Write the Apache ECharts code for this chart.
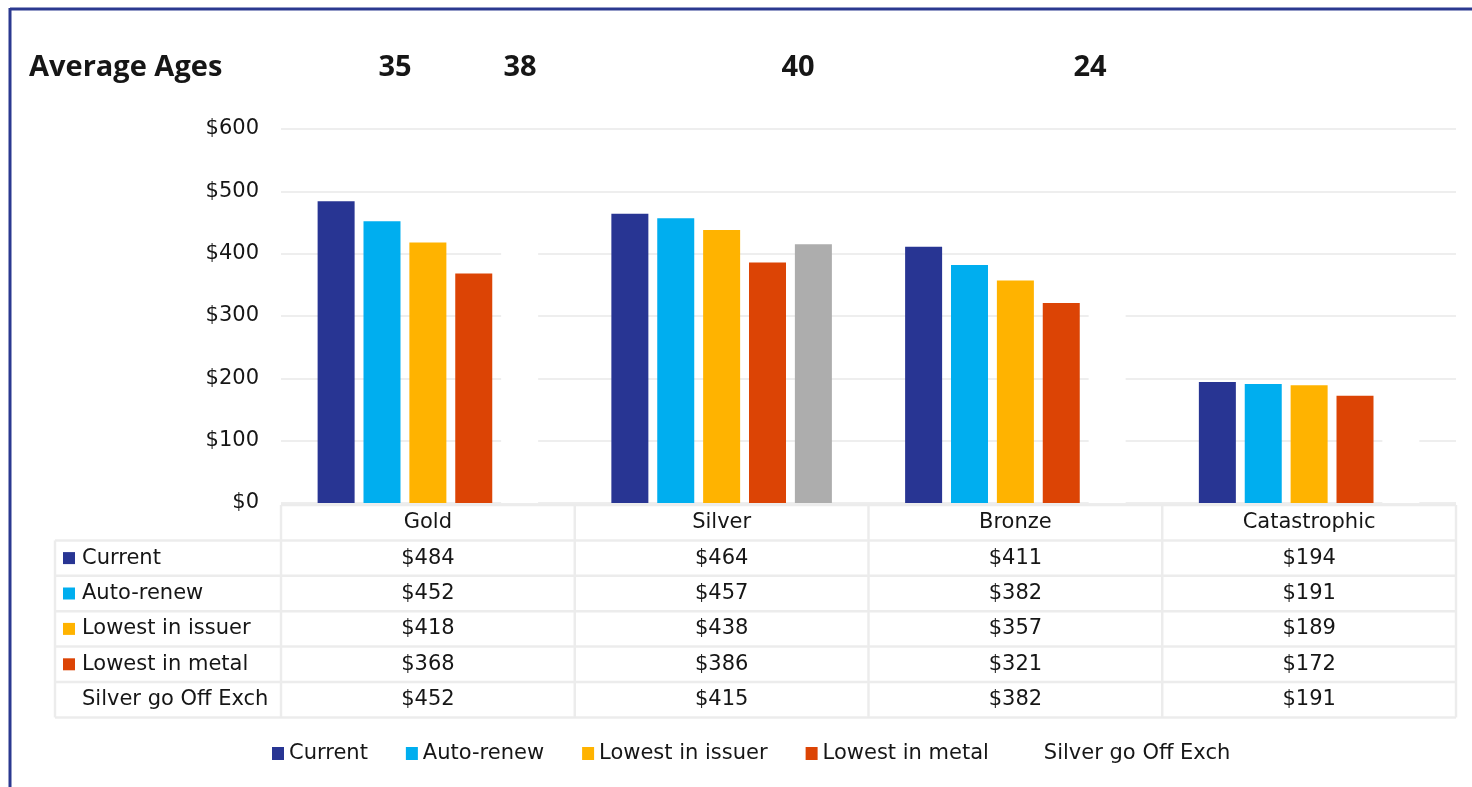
<!DOCTYPE html>
<html>
<head>
<meta charset="utf-8">
<script src="https://cdn.jsdelivr.net/npm/echarts@6/dist/echarts.min.js"></script>
<style>
html,body{margin:0;padding:0;background:#fff;}
#chart{width:1472px;height:787px;}
</style>
</head>
<body>
<div id="chart"></div>
<script>
// ---- data ----
const categories = ['Gold', 'Silver', 'Bronze', 'Catastrophic'];
const seriesNames = ['Current', 'Auto-renew', 'Lowest in issuer', 'Lowest in metal', 'Silver go Off Exch'];
const current = [484, 464, 411, 194];
const autoRenew = [452, 457, 382, 191];
const lowestIssuer = [418, 438, 357, 189];
const lowestMetal = [368, 386, 321, 172];
const silverOffExch = [452, 415, 382, 191];
const yTicks = [0, 100, 200, 300, 400, 500, 600];
const ageTitle = 'Average Ages';
const ages = ['35', '38', '40', '24'];

// ---- styles ----
const colors = ['#283593', '#00AEEF', '#FFB300', '#DC4405', '#FFFFFF'];
const greyBar = '#ADADAD';
const FONT = '"DejaVu Sans", "Liberation Sans", Arial, sans-serif';
const FS = 21;
const TXT = '#161616';
const values = [current, autoRenew, lowestIssuer, lowestMetal, silverOffExch];

const chart = echarts.init(document.getElementById('chart'), null, {renderer: 'canvas'});

const series = values.map((arr, si) => ({
  name: seriesNames[si],
  type: 'bar',
  barWidth: 37,
  barGap: '24%',
  itemStyle: {color: colors[si]},
  data: si === 4
    ? arr.map((v, i) => ({value: v, itemStyle: {color: categories[i] === 'Silver' ? greyBar : '#FFFFFF'}}))
    : arr.slice()
}));

chart.setOption({
  animation: false,
  backgroundColor: '#FFFFFF',
  color: colors,
  grid: {left: 281, right: 16, top: 129, bottom: 284},
  legend: {
    left: 267, top: 738,
    icon: 'rect', itemWidth: 12, itemHeight: 13, itemGap: 38,
    textStyle: {fontFamily: FONT, fontSize: FS, color: TXT},
    data: seriesNames.map((n, i) => ({name: n, itemStyle: {color: colors[i]}}))
  },
  xAxis: {
    type: 'category',
    data: categories,
    axisLine: {show: false},
    axisTick: {show: false},
    axisLabel: {fontFamily: FONT, fontSize: FS, color: TXT, margin: 9}
  },
  yAxis: {
    type: 'value',
    min: yTicks[0], max: yTicks[yTicks.length - 1], interval: 100,
    axisLine: {show: false},
    axisTick: {show: false},
    axisLabel: {fontFamily: FONT, fontSize: FS, color: TXT, margin: 22, formatter: v => '$' + v},
    splitLine: {lineStyle: {color: '#EEEEEE', width: 2}}
  },
  series: series
});

// ---- table & decorations through axis scales ----
function build() {
  const x0 = chart.convertToPixel({xAxisIndex: 0}, categories[0]);
  const x1 = chart.convertToPixel({xAxisIndex: 0}, categories[1]);
  const band = x1 - x0;
  const centers = categories.map(c => chart.convertToPixel({xAxisIndex: 0}, c));
  const left = centers[0] - band / 2;
  const right = centers[centers.length - 1] + band / 2;
  const yZero = chart.convertToPixel({yAxisIndex: 0}, 0);
  const headerTop = yZero + 2;
  const rowH = 35.4;
  const rowsTop = headerTop + rowH;
  const labelLeft = 55;
  const tableBottom = rowsTop + rowH * seriesNames.length;
  const lineStyle = {stroke: '#ECECEC', lineWidth: 2.5};
  const g = [];

  // frame
  g.push({type: 'line', shape: {x1: 10, y1: 9, x2: 1472, y2: 9}, style: {stroke: '#2B3990', lineWidth: 3}, silent: true});
  g.push({type: 'line', shape: {x1: 10, y1: 8, x2: 10, y2: 787}, style: {stroke: '#2B3990', lineWidth: 3}, silent: true});

  // average ages
  const ageFont = 'bold 29px "Open Sans", sans-serif';
  g.push({type: 'text', x: 29, y: 68, style: {text: ageTitle, font: ageFont, fill: TXT, verticalAlign: 'middle'}});
  const ageX = [395, 520, 798, 1090];
  ages.forEach((a, i) => {
    g.push({type: 'text', x: ageX[i], y: 68, style: {text: a, font: ageFont, fill: TXT, align: 'center', verticalAlign: 'middle'}});
  });

  // horizontal lines
  g.push({type: 'line', shape: {x1: left, y1: headerTop, x2: right, y2: headerTop}, style: lineStyle});
  for (let r = 0; r <= seriesNames.length; r++) {
    const y = rowsTop + r * rowH;
    g.push({type: 'line', shape: {x1: labelLeft, y1: y, x2: right, y2: y}, style: lineStyle});
  }
  // vertical lines
  g.push({type: 'line', shape: {x1: labelLeft, y1: rowsTop, x2: labelLeft, y2: tableBottom}, style: lineStyle});
  for (let c = 0; c <= categories.length; c++) {
    const x = left + c * band;
    g.push({type: 'line', shape: {x1: x, y1: headerTop, x2: x, y2: tableBottom}, style: lineStyle});
  }
  // rows
  const cellFont = FS + 'px ' + FONT;
  seriesNames.forEach((n, si) => {
    const yc = rowsTop + si * rowH + rowH / 2;
    if (si < 4) {
      g.push({type: 'rect', shape: {x: 63, y: yc - 6, width: 12, height: 12}, style: {fill: colors[si]}});
    }
    g.push({type: 'text', x: 82, y: yc, style: {text: n, font: cellFont, fill: TXT, verticalAlign: 'middle'}});
    values[si].forEach((v, ci) => {
      g.push({type: 'text', x: centers[ci], y: yc, style: {text: '$' + v, font: cellFont, fill: TXT, align: 'center', verticalAlign: 'middle'}});
    });
  });
  chart.setOption({graphic: g});
}
build();
</script>
</body>
</html>
